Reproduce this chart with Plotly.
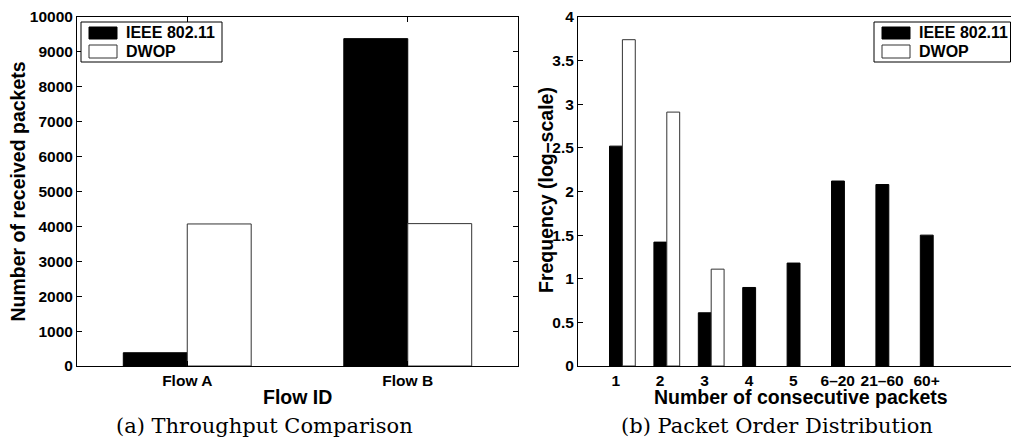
import plotly.graph_objects as go

# ---------------- data ----------------
flows = ["Flow A", "Flow B"]
thr_ieee = [380, 9380]
thr_dwop = [4070, 4080]

runs = ["1", "2", "3", "4", "5", "6–20", "21–60", "60+"]
freq_ieee = [2.52, 1.42, 0.61, 0.90, 1.18, 2.12, 2.08, 1.50]
freq_dwop = [3.74, 2.91, 1.11, None, None, None, None, None]

series_names = ["IEEE 802.11", "DWOP"]

# ---------------- layout helpers ----------------
W, H = 1011, 438


def px(x):
    return x / W


def py(y):
    return 1 - y / H


SANS = "Liberation Sans"
SERIF = "DejaVu Serif"
tickfont = dict(family=SANS, size=15.5, color="black", weight="bold")

ieee_style = dict(color="black", line=dict(color="black", width=1))
dwop_style = dict(color="white", line=dict(color="#333333", width=1))

xa = list(range(1, len(flows) + 1))
xb = list(range(1, len(runs) + 1))

fig = go.Figure()
fig.add_trace(go.Bar(x=xa, y=thr_ieee, name=series_names[0], marker=ieee_style,
                     xaxis="x", yaxis="y", showlegend=False))
fig.add_trace(go.Bar(x=xa, y=thr_dwop, name=series_names[1], marker=dwop_style,
                     xaxis="x", yaxis="y", showlegend=False))
fig.add_trace(go.Bar(x=xb, y=freq_ieee, name=series_names[0], marker=ieee_style,
                     xaxis="x2", yaxis="y2", showlegend=False))
fig.add_trace(go.Bar(x=xb, y=freq_dwop, name=series_names[1], marker=dwop_style,
                     xaxis="x2", yaxis="y2", showlegend=False))

ydom = [py(366), py(17)]
xb_range = [0, 10 * (W - 578) / 444.0]
label_shift = 0.15

axis_common = dict(showline=True, linecolor="black", linewidth=1, ticks="inside",
                   ticklen=5, tickcolor="black", tickwidth=1, tickfont=tickfont,
                   showgrid=False, zeroline=False, automargin=False)

fig.update_layout(
    template="none",
    width=W, height=H,
    margin=dict(l=0, r=0, t=0, b=0, pad=0),
    paper_bgcolor="white", plot_bgcolor="white",
    showlegend=False,
    barmode="group", bargap=0.42, bargroupgap=0,
    xaxis=dict(domain=[px(77), px(518)], range=[0.5, 2.5], tickvals=xa,
               ticktext=flows, mirror="ticks", anchor="y", **axis_common),
    yaxis=dict(domain=ydom, range=[0, 10000], dtick=1000, tickformat="d",
               mirror="ticks", anchor="x", **axis_common),
    xaxis2=dict(domain=[px(578), 1.0], range=xb_range,
                tickvals=[v - label_shift for v in xb], ticktext=runs,
                showline=True, linecolor="black", linewidth=1, mirror=True,
                ticks="", tickfont=tickfont, showgrid=False, zeroline=False,
                anchor="y2", automargin=False),
    xaxis3=dict(overlaying="x2", side="top", range=xb_range, tickvals=xb,
                showticklabels=False, ticks="inside", ticklen=5, tickcolor="black",
                showline=False, showgrid=False, zeroline=False, anchor="y2",
                automargin=False),
    yaxis2=dict(domain=ydom, range=[0, 4], dtick=0.5, mirror=False,
                anchor="x2", **axis_common),
)

# ---------------- axis titles & captions ----------------
title_font = dict(family=SANS, size=19.5, color="black", weight="bold")
cap_font = dict(family=SERIF, size=21, color="black")
ann = [
    dict(text="Number of received packets", x=px(18), y=py(191.5), textangle=-90, font=title_font),
    dict(text="Flow ID", x=px(297.5), y=py(397), font=title_font),
    dict(text="Frequency (log–scale)", x=px(546), y=py(190), textangle=-90, font=title_font),
    dict(text="Number of consecutive packets", x=px(801), y=py(397), font=title_font),
    dict(text="(a) Throughput Comparison", x=px(264), y=py(426), font=cap_font),
    dict(text="(b) Packet Order Distribution", x=px(777), y=py(426), font=cap_font),
]
for a in ann:
    fig.add_annotation(xref="paper", yref="paper", showarrow=False,
                       xanchor="center", yanchor="middle", **a)

# ---------------- manual legends ----------------
leg_font = dict(family=SANS, size=16, color="black", weight="bold")
for (bx0, bx1) in [(81, 222), (874, 1010.5)]:
    fig.add_shape(type="rect", xref="paper", yref="paper",
                  x0=px(bx0), x1=px(bx1), y0=py(62), y1=py(22),
                  line=dict(color="black", width=1), fillcolor="white")
    sx0 = bx0 + 8
    fig.add_shape(type="rect", xref="paper", yref="paper",
                  x0=px(sx0), x1=px(sx0 + 28), y0=py(39), y1=py(27),
                  line=dict(color="black", width=1), fillcolor="black")
    fig.add_shape(type="rect", xref="paper", yref="paper",
                  x0=px(sx0), x1=px(sx0 + 28), y0=py(58), y1=py(45),
                  line=dict(color="#333333", width=1), fillcolor="white")
    for name, yc in zip(series_names, [33, 51]):
        fig.add_annotation(xref="paper", yref="paper", showarrow=False,
                           x=px(sx0 + 35), y=py(yc), xanchor="left", yanchor="middle",
                           text=name, font=leg_font)

fig.write_html(
    "out.html",
    config={"displayModeBar": False},
    post_script="document.body.style.margin='0';document.body.style.overflow='hidden';",
)
